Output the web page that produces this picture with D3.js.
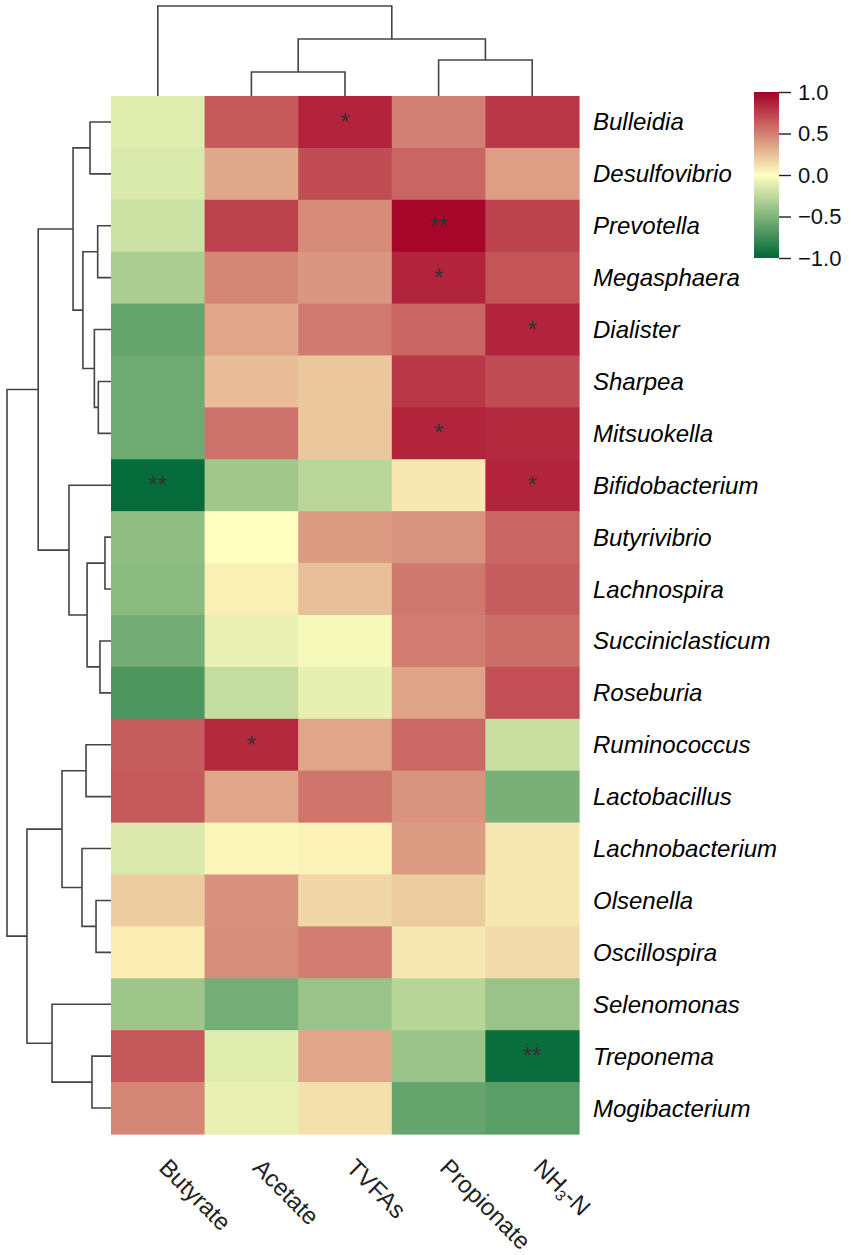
<!DOCTYPE html>
<html>
<head>
<meta charset="utf-8">
<script src="https://cdn.jsdelivr.net/npm/d3@7"></script>
<style>
  body { margin: 0; background: #fff; }
  text { font-family: "Liberation Sans", Arial, sans-serif; }
</style>
</head>
<body>
<div id="chart"></div>
<script>
// genera in the clustered order (top to bottom)
var genera = ["Bulleidia", "Desulfovibrio", "Prevotella", "Megasphaera", "Dialister",
  "Sharpea", "Mitsuokella", "Bifidobacterium", "Butyrivibrio", "Lachnospira",
  "Succiniclasticum", "Roseburia", "Ruminococcus", "Lactobacillus", "Lachnobacterium",
  "Olsenella", "Oscillospira", "Selenomonas", "Treponema", "Mogibacterium"];

var columns = ["Butyrate", "Acetate", "TVFAs", "Propionate", "NH3-N"];

// correlation values per column, same order as genera
var butyrate   = [-0.12, -0.15, -0.20, -0.33, -0.60, -0.56, -0.56, -0.98, -0.44, -0.46, -0.55, -0.69, 0.64, 0.65, -0.14, 0.20, 0.07, -0.38, 0.66, 0.47];
var acetate    = [0.65, 0.34, 0.74, 0.47, 0.35, 0.26, 0.55, -0.37, 0.00, 0.06, -0.09, -0.23, 0.84, 0.35, 0.04, 0.43, 0.44, -0.54, -0.12, -0.09];
var tvfas      = [0.86, 0.70, 0.45, 0.41, 0.52, 0.22, 0.22, -0.27, 0.39, 0.25, -0.04, -0.10, 0.35, 0.54, 0.05, 0.16, 0.51, -0.40, 0.35, 0.12];
var propionate = [0.50, 0.60, 0.98, 0.86, 0.60, 0.78, 0.86, 0.09, 0.42, 0.53, 0.51, 0.36, 0.59, 0.42, 0.39, 0.20, 0.09, -0.28, -0.40, -0.60];
var nh3n       = [0.78, 0.38, 0.74, 0.67, 0.86, 0.70, 0.84, 0.86, 0.60, 0.64, 0.57, 0.69, -0.21, -0.52, 0.09, 0.09, 0.14, -0.40, -0.96, -0.65];

// significance marks
var signif = [
  ["Bulleidia", "TVFAs", "*"],
  ["Prevotella", "Propionate", "**"],
  ["Megasphaera", "Propionate", "*"],
  ["Dialister", "NH3-N", "*"],
  ["Mitsuokella", "Propionate", "*"],
  ["Bifidobacterium", "Butyrate", "**"],
  ["Bifidobacterium", "NH3-N", "*"],
  ["Ruminococcus", "Acetate", "*"],
  ["Treponema", "NH3-N", "**"]
];

// hclust style merges: negative = leaf index (1-based), positive = earlier merge
var rowMerges = [
  [-1, -2, 0.202], [-3, -4, 0.128], [-6, -7, 0.122], [-5, 3, 0.160], [2, 4, 0.270],
  [1, 5, 0.365], [-9, -10, 0.058], [-11, -12, 0.106], [7, 8, 0.230], [-8, 9, 0.404],
  [6, 10, 0.700], [-13, -14, 0.240], [-16, -17, 0.144], [-15, 13, 0.279], [12, 14, 0.471],
  [-19, -20, 0.183], [-18, 16, 0.567], [15, 17, 0.808], [11, 18, 1.000]
];
var colMerges = [
  [-2, -3, 0.267], [-4, -5, 0.400], [1, 2, 0.633], [-1, 3, 1.000]
];

var legendTicks = [-1, -0.5, 0, 0.5, 1];

var valuesByColumn = [butyrate, acetate, tvfas, propionate, nh3n];

var svgWidth = 851;
var svgHeight = 1255;

var svg = d3.select("#chart")
  .append("svg")
  .attr("width", svgWidth)
  .attr("height", svgHeight);

var x = d3.scaleBand().domain(columns).range([111, 579]);
var y = d3.scaleBand().domain(genera).range([96, 1134]);

var color = d3.scaleLinear()
  .domain([-1, 0, 1])
  .range(["#006837", "#ffffbf", "#a50026"]);

// cells
var cells = [];
genera.forEach(function(g, i) {
  columns.forEach(function(c, j) {
    cells.push({ genus: g, column: c, value: valuesByColumn[j][i] });
  });
});

svg.append("g")
  .selectAll("rect")
  .data(cells)
  .enter()
  .append("rect")
  .attr("x", d => x(d.column))
  .attr("y", d => y(d.genus))
  .attr("width", x.bandwidth() + 0.6)
  .attr("height", y.bandwidth() + 0.6)
  .attr("fill", d => color(d.value));

// asterisks
svg.append("g")
  .selectAll("text")
  .data(signif)
  .enter()
  .append("text")
  .attr("x", d => x(d[1]) + x.bandwidth() / 2)
  .attr("y", d => y(d[0]) + y.bandwidth() / 2 + 8)
  .attr("text-anchor", "middle")
  .attr("font-size", 24)
  .attr("fill", "#333")
  .text(d => d[2]);

// dendrograms
function buildSegments(merges, leafPos) {
  var nodes = [];
  var segs = [];
  function get(id) {
    return id < 0 ? { pos: leafPos(-id - 1), h: 0 } : nodes[id - 1];
  }
  merges.forEach(function(m) {
    var a = get(m[0]), b = get(m[1]);
    segs.push({ a: a, b: b, h: m[2] });
    nodes.push({ pos: (a.pos + b.pos) / 2, h: m[2] });
  });
  return segs;
}

var rowH = d3.scaleLinear().domain([0, 1]).range([111, 7]);
var colH = d3.scaleLinear().domain([0, 1]).range([96, 6]);

var rowSegs = buildSegments(rowMerges, i => y(genera[i]) + y.bandwidth() / 2);
var colSegs = buildSegments(colMerges, i => x(columns[i]) + x.bandwidth() / 2);

svg.append("g")
  .selectAll("path")
  .data(rowSegs)
  .enter()
  .append("path")
  .attr("d", d => `M${rowH(d.a.h)},${d.a.pos}H${rowH(d.h)}V${d.b.pos}H${rowH(d.b.h)}`)
  .attr("fill", "none")
  .attr("stroke", "#444")
  .attr("stroke-width", 1.6);

svg.append("g")
  .selectAll("path")
  .data(colSegs)
  .enter()
  .append("path")
  .attr("d", d => `M${d.a.pos},${colH(d.a.h)}V${colH(d.h)}H${d.b.pos}V${colH(d.b.h)}`)
  .attr("fill", "none")
  .attr("stroke", "#444")
  .attr("stroke-width", 1.6);

// row labels
svg.append("g")
  .selectAll("text")
  .data(genera)
  .enter()
  .append("text")
  .attr("x", 593)
  .attr("y", d => y(d) + y.bandwidth() / 2 + 8.5)
  .attr("font-size", 24)
  .attr("font-style", "italic")
  .attr("fill", "#000")
  .text(d => d);

// column labels, rotated 45 degrees
var colLabels = svg.append("g")
  .selectAll("text")
  .data(columns)
  .enter()
  .append("text")
  .attr("transform", d => `translate(${x(d) + x.bandwidth() / 2}, 1169) rotate(45)`)
  .attr("font-size", 24)
  .attr("fill", "#222");

colLabels.each(function(d) {
  var t = d3.select(this);
  if (d === "NH3-N") {
    t.append("tspan").text("NH");
    t.append("tspan").attr("font-size", 15).attr("dy", 4).text("3");
    t.append("tspan").attr("dy", -4).text("-N");
  } else {
    t.text(d);
  }
});

// colour legend
var defs = svg.append("defs");
var grad = defs.append("linearGradient")
  .attr("id", "legendGrad")
  .attr("x1", 0).attr("y1", 1)
  .attr("x2", 0).attr("y2", 0);

d3.range(0, 1.0001, 0.05).forEach(function(t) {
  grad.append("stop")
    .attr("offset", t)
    .attr("stop-color", color(-1 + 2 * t));
});

var legendScale = d3.scaleLinear().domain([-1, 1]).range([258, 92]);

svg.append("rect")
  .attr("x", 754)
  .attr("y", 92)
  .attr("width", 25)
  .attr("height", 166)
  .attr("fill", "url(#legendGrad)");

var legendAxis = svg.append("g")
  .attr("transform", "translate(779,0)")
  .call(d3.axisRight(legendScale)
    .tickValues(legendTicks)
    .tickSize(12)
    .tickPadding(7)
    .tickFormat(d3.format(".1f")));

legendAxis.select(".domain").remove();
legendAxis.selectAll("line").attr("stroke", "#222").attr("stroke-width", 1.4);
legendAxis.selectAll("text")
  .attr("font-size", 22)
  .attr("font-family", "Liberation Sans, Arial, sans-serif")
  .attr("fill", "#111");
</script>
</body>
</html>
